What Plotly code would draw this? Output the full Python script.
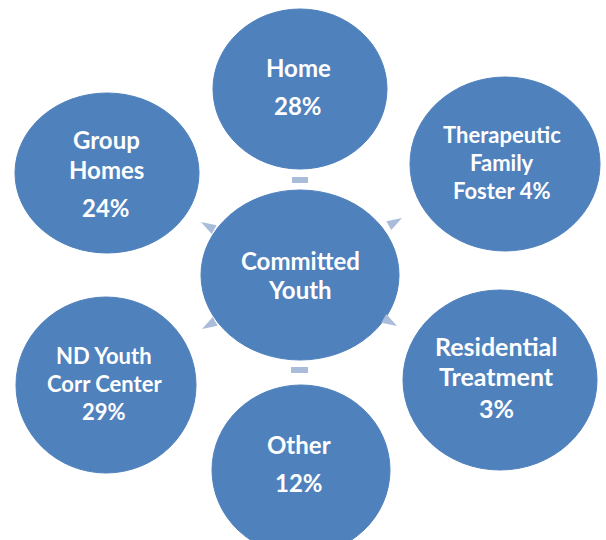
import plotly.graph_objects as go

# ---------------- data ----------------
center_lines = ["Committed", "Youth"]
categories = ["Home", "Therapeutic Family Foster", "Residential Treatment",
              "Other", "ND Youth Corr Center", "Group Homes"]
percents = [28, 4, 3, 12, 29, 24]
# how each category name is broken into lines in the diagram
name_lines = [["Home"], ["Therapeutic", "Family", "Foster"], ["Residential", "Treatment"],
              ["Other"], ["ND Youth", "Corr Center"], ["Group", "Homes"]]
pct_inline = [False, True, False, False, False, False]

# ---------------- layout geometry (positions / sizes) ----------------
W, H = 606, 540
BLUE = "#4f81bd"
ARROW = "#a9bddb"
center_geo = (300, 275, 99, 85)
node_geo = [(300, 89, 87, 80), (505, 164, 95, 87), (500, 380, 97, 90),
            (301, 470, 89, 85), (106, 385, 90, 88), (107, 173, 92, 80)]
center_text_y = [260, 289]
node_text_y = [[67, 105], [134, 162, 190], [346, 376, 408],
               [444, 482], [355, 383, 411], [139, 169, 207]]
node_text_x = [298, 502, 496, 299, 104, 106]
font_sizes = [24, 22, 25, 24, 22, 24]

fig = go.Figure()
shapes = []
annotations = []


def ellipse(cx, cy, rx, ry):
    return dict(type="circle", xref="x", yref="y", x0=cx - rx, x1=cx + rx,
                y0=cy - ry, y1=cy + ry, fillcolor=BLUE,
                line=dict(color=BLUE, width=1), layer="below")


shapes.append(ellipse(*center_geo))
for g in node_geo:
    shapes.append(ellipse(*g))

# connector marks (light blue)
shapes.append(dict(type="rect", xref="x", yref="y", x0=292, x1=308, y0=177, y1=183,
                   fillcolor=ARROW, line=dict(width=0)))
shapes.append(dict(type="rect", xref="x", yref="y", x0=291, x1=308, y0=367, y1=373,
                   fillcolor=ARROW, line=dict(width=0)))
fig.add_trace(go.Scatter(
    x=[402, 201, 202, 397], y=[218, 222, 329, 326], mode="markers",
    marker=dict(symbol="arrow", size=16, color=ARROW, angle=[60, -60, -120, 120],
                line=dict(width=0)),
    hoverinfo="skip", showlegend=False))

fnt = lambda s: dict(family="Lato", size=s, color="white", weight="bold")

for line, y in zip(center_lines, center_text_y):
    annotations.append(dict(x=center_geo[0], y=y, xref="x", yref="y", text=line,
                            showarrow=False, font=fnt(24)))

for i, cat in enumerate(categories):
    lines = list(name_lines[i])
    pct = f"{percents[i]}%"
    if pct_inline[i]:
        lines[-1] = lines[-1] + " " + pct
    else:
        lines.append(pct)
    for line, y in zip(lines, node_text_y[i]):
        annotations.append(dict(x=node_text_x[i], y=y, xref="x", yref="y", text=line,
                                showarrow=False, font=fnt(font_sizes[i])))

fig.update_layout(
    width=W, height=H, margin=dict(l=0, r=0, t=0, b=0),
    paper_bgcolor="white", plot_bgcolor="white",
    xaxis=dict(range=[0, W], visible=False, fixedrange=True),
    yaxis=dict(range=[H, 0], visible=False, fixedrange=True),
    shapes=shapes, annotations=annotations, showlegend=False,
)

fig.write_html("out.html", config={"displayModeBar": False},
               post_script="document.body.style.margin='0';")
